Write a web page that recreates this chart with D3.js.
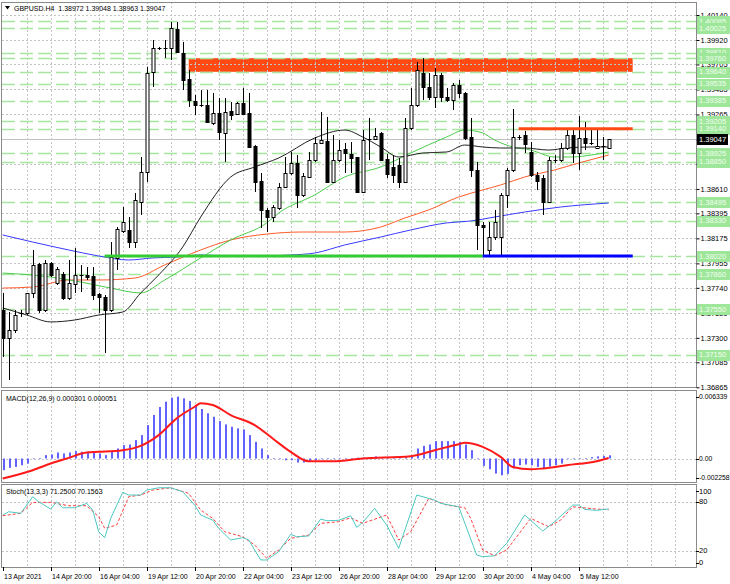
<!DOCTYPE html>
<html><head><meta charset="utf-8">
<script src="https://cdn.jsdelivr.net/npm/d3@7/dist/d3.min.js"></script>
<style>body{margin:0;background:#fff}svg{display:block;font-family:"Liberation Sans",Arial,sans-serif}</style>
</head><body><svg id="c" width="730" height="584"></svg>
<script>
// ---------------- DATA ----------------
const symbolTitle = "GBPUSD.H4  1.38972 1.39048 1.38963 1.39047";
const macdTitle = "MACD(12,26,9) 0.000301 0.000051";
const stochTitle = "Stoch(13,3,3) 71.2500 70.1563";

const openP = [1.37545,1.37299,1.37369,1.37519,1.37519,1.37695,1.37950,1.37545,1.37959,1.37783,
1.37862,1.37650,1.37774,1.37853,1.37853,1.37844,1.37686,1.37659,1.37545,1.38003,
1.38240,1.38249,1.38143,1.38495,1.38759,1.39639,1.39850,1.39850,1.39850,1.40017,
1.39806,1.39577,1.39384,1.39348,1.39348,1.39190,1.39278,1.39102,1.39295,1.39269,
1.39366,1.39278,1.38988,1.38680,1.38425,1.38363,1.38442,1.38627,1.38750,1.38838,
1.38557,1.38715,1.38864,1.39014,1.39032,1.38671,1.38864,1.38961,1.38917,1.38891,
1.38583,1.39049,1.39049,1.39102,1.38873,1.38803,1.38820,1.38671,1.39146,1.39348,
1.39630,1.39507,1.39419,1.39612,1.39419,1.39392,1.39524,1.39454,1.39067,1.38777,
1.38293,1.38073,1.38187,1.38187,1.38557,1.38777,1.39067,1.39084,1.38935,1.38733,
1.38706,1.38495,1.38864,1.38864,1.38970,1.39084,1.38926,1.39058,1.39014,1.38970,
1.38988,1.38972];
const highP = [1.37695,1.37527,1.37545,1.37545,1.37695,1.38073,1.37959,1.37985,1.37967,1.37923,
1.37879,1.37985,1.38090,1.37940,1.37923,1.37923,1.37695,1.37677,1.38143,1.38275,
1.38451,1.38363,1.38574,1.38891,1.39683,1.39920,1.39859,1.39920,1.40079,1.40079,
1.39903,1.39656,1.39436,1.39480,1.39480,1.39454,1.39410,1.39410,1.39375,1.39375,
1.39498,1.39454,1.38996,1.38750,1.38442,1.38468,1.38662,1.38891,1.38935,1.38908,
1.38750,1.38935,1.39067,1.39287,1.39243,1.39084,1.39040,1.39014,1.39023,1.38891,
1.39128,1.39234,1.39146,1.39111,1.38917,1.38908,1.38882,1.39234,1.39498,1.39727,
1.39762,1.39630,1.39674,1.39630,1.39498,1.39542,1.39568,1.39463,1.39234,1.38847,
1.38319,1.38319,1.38425,1.38574,1.38794,1.39313,1.39084,1.39120,1.39023,1.38759,
1.38733,1.38891,1.38908,1.39014,1.39128,1.39128,1.39251,1.39199,1.39128,1.39128,
1.39067,1.39048];
const lowP = [1.37132,1.36929,1.37343,1.37483,1.37501,1.37650,1.37519,1.37527,1.37835,1.37765,
1.37633,1.37633,1.37695,1.37703,1.37809,1.37633,1.37519,1.37167,1.37527,1.37897,
1.38222,1.38090,1.38090,1.38381,1.38671,1.39507,1.39832,1.39762,1.39744,1.39815,
1.39480,1.39331,1.39260,1.39331,1.39190,1.39172,1.39040,1.38847,1.39216,1.39260,
1.39260,1.38970,1.38583,1.38266,1.38231,1.38319,1.38425,1.38618,1.38733,1.38442,
1.38539,1.38706,1.38847,1.39014,1.38662,1.38662,1.38847,1.38750,1.38750,1.38574,
1.38574,1.38864,1.39040,1.38856,1.38706,1.38662,1.38618,1.38662,1.39128,1.39331,
1.39392,1.39392,1.39322,1.39375,1.39375,1.39304,1.39410,1.39040,1.38715,1.38073,
1.38029,1.38029,1.38161,1.38011,1.38442,1.38759,1.39040,1.38926,1.38715,1.38601,
1.38381,1.38486,1.38838,1.38847,1.38952,1.38838,1.38777,1.38952,1.38996,1.38961,
1.38864,1.38963];
const closeP = [1.37299,1.37369,1.37501,1.37510,1.37695,1.37940,1.37545,1.37959,1.37853,1.37906,
1.37650,1.37783,1.37853,1.37844,1.37835,1.37677,1.37659,1.37545,1.38011,1.38257,
1.38319,1.38143,1.38513,1.38759,1.39630,1.39850,1.39845,1.39841,1.40026,1.39815,
1.39568,1.39392,1.39348,1.39345,1.39199,1.39278,1.39111,1.39287,1.39260,1.39366,
1.39269,1.38979,1.38671,1.38425,1.38363,1.38451,1.38627,1.38750,1.38838,1.38557,
1.38724,1.38864,1.39014,1.39040,1.38671,1.38864,1.38952,1.38926,1.38882,1.38583,
1.39040,1.39045,1.39075,1.38864,1.38741,1.38733,1.38671,1.39146,1.39348,1.39656,
1.39507,1.39419,1.39612,1.39419,1.39392,1.39524,1.39454,1.39058,1.38777,1.38293,
1.38275,1.38187,1.38319,1.38557,1.38777,1.39067,1.39062,1.39005,1.38733,1.38680,
1.38495,1.38864,1.38860,1.38970,1.39084,1.38926,1.39058,1.39014,1.39010,1.38988,
1.38985,1.39047];

// moving averages (bar index, value)
const maBlackIdx = [0,4,8,12,16,20,23,26,30,33,38,42,46,52,57,60,63,66,70,74,77,80,83,87,91,94,98,101];
const maBlackVal = [1.37563,1.37501,1.37440,1.37457,1.37501,1.37527,1.37695,1.37853,1.38099,1.38363,1.38715,1.38803,1.38882,1.39058,1.39128,1.39067,1.38979,1.38891,1.38926,1.38935,1.38996,1.38979,1.38970,1.38970,1.38952,1.38970,1.38979,1.38979];
const maGreenIdx = [0,8,13,18,23,27,33,38,44,46,52,57,63,68,74,77,80,82,85,88,92,95,98,101];
const maGreenVal = [1.37870,1.37835,1.37791,1.37738,1.37695,1.37809,1.38003,1.38161,1.38311,1.38398,1.38557,1.38715,1.38803,1.38926,1.39067,1.39128,1.39102,1.39040,1.38979,1.38952,1.38891,1.38891,1.38908,1.38935];
const maOrangeIdx = [0,5,11,16,22,27,33,38,44,50,57,63,67,71,76,80,83,87,92,96,101];
const maOrangeVal = [1.37738,1.37747,1.37809,1.37809,1.37826,1.37941,1.38073,1.38161,1.38213,1.38231,1.38231,1.38275,1.38354,1.38425,1.38539,1.38601,1.38645,1.38715,1.38777,1.38838,1.38908];
const maBlueIdx = [0,5,11,16,21,25,29,33,38,43,48,52,57,63,68,74,78,82,87,93,101];
const maBlueVal = [1.38205,1.38143,1.38073,1.38020,1.37985,1.38003,1.38011,1.38029,1.38020,1.38020,1.38029,1.38046,1.38117,1.38187,1.38249,1.38311,1.38328,1.38363,1.38407,1.38451,1.38486];

// MACD histogram per bar and signal line
const macdHist = [-0.00111,-0.00089,-0.00080,-0.00064,-0.00048,0.00000,0.00003,0.00032,0.00038,0.00057,
0.00048,0.00057,0.00070,0.00064,0.00064,0.00057,0.00048,0.00032,0.00064,0.00095,
0.00127,0.00133,0.00175,0.00222,0.00317,0.00413,0.00489,0.00539,0.00577,0.00587,
0.00571,0.00546,0.00508,0.00470,0.00429,0.00396,0.00355,0.00324,0.00301,0.00286,
0.00276,0.00222,0.00158,0.00095,0.00032,0.00003,-0.00006,-0.00016,-0.00016,-0.00038,
-0.00038,-0.00025,-0.00016,-0.00006,0.00002,-0.00006,-0.00004,0.00003,0.00005,0.00008,
0.00010,0.00012,0.00020,0.00010,0.00008,0.00008,0.00008,0.00020,0.00025,0.00095,
0.00120,0.00133,0.00165,0.00165,0.00165,0.00165,0.00158,0.00133,0.00079,0.00000,
-0.00070,-0.00102,-0.00143,-0.00159,-0.00146,-0.00095,-0.00064,-0.00057,-0.00064,-0.00080,
-0.00089,-0.00076,-0.00064,-0.00048,-0.00006,-0.00006,-0.00004,0.00002,0.00013,0.00020,
0.00025,0.000301];
const macdSigIdx = [0,5,8,11,14,16,20,23,26,29,32,33,35,38,42,45,48,51,55,60,68,72,76,77,80,83,85,88,90,94,99,101];
const macdSigVal = [-0.0019,-0.00111,-0.00048,0.00006,0.00057,0.00063,0.00079,0.0012,0.00222,0.00381,0.00491,0.00524,0.00508,0.00412,0.00317,0.0019,0.00063,-0.00026,-0.00026,0.0,0.00022,0.00079,0.00136,0.00149,0.0011,0.00015,-0.0008,-0.00102,-0.00095,-0.00064,-0.00026,0.000051];

// Stochastic main and signal
const stMainIdx = [0,1,3,5,6,8,9,10,12,14,15,16,17,18,20,21,23,24,26,28,30,32,33,35,36,38,40,41,43,44,46,48,49,51,53,54,56,58,59,60,62,64,66,69,72,73,76,79,80,82,84,87,90,92,95,96,97,99,101];
const stMainVal = [63.7,67.7,65.8,86.1,80.0,71.0,80.0,72.6,72.6,78.0,69.8,43.2,35.9,59.6,91.5,88.2,88.2,94.3,97.1,97.1,92.2,75.9,63.7,57.5,47.4,33.1,35.9,33.1,8.6,8.6,18.7,40.0,37.1,38.0,58.8,56.7,57.2,62.8,48.6,54.5,71.9,51.4,22.9,88.2,82.0,78.0,73.8,14.7,12.6,13.8,29.0,63.7,44.1,55.5,75.9,75.9,70.6,69.4,71.25];
const stSigIdx = [0,3,5,8,11,14,16,17,19,21,23,25,28,31,33,35,37,40,42,44,46,48,51,53,56,58,60,64,66,68,71,74,77,78,80,82,84,88,91,93,95,99,101];
const stSigVal = [62.8,65.8,79.2,79.2,75.1,75.1,61.6,47.4,51.4,86.1,88.2,94.3,97.1,90.2,69.8,59.6,43.2,37.1,26.9,10.7,20.8,35.1,39.2,53.5,55.5,60.4,53.5,63.7,33.1,43.2,84.1,75.9,72.6,59.6,20.8,13.8,20.8,59.6,49.3,57.5,73.8,71.0,70.16];

// axis / levels
const priceTicks = [1.40140,1.39920,1.39705,1.39485,1.39265,1.39045,1.38830,1.38610,1.38395,1.38175,1.37955,1.37740,1.37520,1.37300,1.37085,1.36865];
const levelPrices = [1.40085,1.40025,1.39810,1.39760,1.39640,1.39535,1.39385,1.39205,1.39140,1.38925,1.38850,1.38495,1.38330,1.38020,1.37860,1.37550,1.37150];
const bidPrice = 1.39047;
const timeLabels = ["13 Apr 2021","14 Apr 20:00","16 Apr 04:00","19 Apr 12:00","20 Apr 20:00","22 Apr 04:00","23 Apr 12:00","26 Apr 20:00","28 Apr 04:00","29 Apr 12:00","30 Apr 20:00","4 May 04:00","5 May 12:00"];
const timeLabelIdx = [0,8,16,24,32,40,48,56,64,72,80,88,96];
const macdTicks = [0.006339,0,-0.002258];
const stochTicks = [100,80,20,0];
// drawn objects
const zoneBox = {from:31, to:105, top:1.39760, bottom:1.39640};
const resLine = {from:86, to:105, price:1.39140};
const supGreen = {from:17, to:80, price:1.38020};
const supBlue = {from:80, to:105, price:1.38020};

// ---------------- DRAW ----------------
const svg = d3.select('#c');
const L = 2, R = 696;
const panels = {main:[2,388], macd:[390,482.5], stoch:[484,567.5]};
const x = d3.scaleLinear().domain([0,101]).range([2.7,608.7]);
const y = d3.scaleLinear().domain([1.36865,1.40140]).range([387.3,15]);
const ym = d3.scaleLinear().domain([-0.002258,0.006339]).range([482.3,391.7]);
const ys = d3.scaleLinear().domain([0,100]).range([567,485.4]);
const cr = v => Math.round(v)+0.5;
const FS = 7.5, FT = 7;

const defs = svg.append('defs');
Object.entries(panels).forEach(([k,[t,b]])=>{
  defs.append('clipPath').attr('id','clip-'+k).append('rect').attr('x',L).attr('y',t).attr('width',R-L).attr('height',b-t);
});
svg.append('rect').attr('width',730).attr('height',584).attr('fill','#fff');

const gMain = svg.append('g').attr('clip-path','url(#clip-main)');
const gMacd = svg.append('g').attr('clip-path','url(#clip-macd)');
const gSt = svg.append('g').attr('clip-path','url(#clip-stoch)');

// zone rectangle (background object)
gMain.append('rect')
  .attr('x',x(zoneBox.from)).attr('width',x(zoneBox.to)-x(zoneBox.from))
  .attr('y',y(zoneBox.top)).attr('height',y(zoneBox.bottom)-y(zoneBox.top))
  .attr('fill','#ff4a14');

// vertical grid
const gridIdx = d3.range(4,120,4).filter(i=>x(i)<R-2);
[[gMain,'main'],[gMacd,'macd'],[gSt,'stoch']].forEach(([g,k])=>{
  const [t,b]=panels[k];
  g.selectAll(null).data(gridIdx).join('line')
    .attr('x1',d=>cr(x(d))).attr('x2',d=>cr(x(d))).attr('y1',t).attr('y2',b)
    .attr('stroke','#c4c4c4').attr('stroke-dasharray','2,2').attr('stroke-width',1);
});
// horizontal grid main
gMain.selectAll(null).data(priceTicks).join('line')
  .attr('x1',L).attr('x2',R).attr('y1',d=>cr(y(d))).attr('y2',d=>cr(y(d)))
  .attr('stroke','#c4c4c4').attr('stroke-dasharray','2,2');
// macd zero, stoch levels
gMacd.append('line').attr('x1',L).attr('x2',R).attr('y1',cr(ym(0))).attr('y2',cr(ym(0)))
  .attr('stroke','#c4c4c4').attr('stroke-dasharray','2,2');
gSt.selectAll(null).data([80,20]).join('line')
  .attr('x1',L).attr('x2',R).attr('y1',d=>cr(ys(d))).attr('y2',d=>cr(ys(d)))
  .attr('stroke','#c4c4c4').attr('stroke-dasharray','2,2');

// green dashed levels
gMain.selectAll(null).data(levelPrices).join('line')
  .attr('x1',L).attr('x2',R).attr('y1',d=>cr(y(d))).attr('y2',d=>cr(y(d)))
  .attr('stroke','#a8e6a0').attr('stroke-width',1.3).attr('stroke-dasharray','13,5');

// bid line
gMain.append('line').attr('x1',L).attr('x2',R).attr('y1',cr(y(bidPrice))).attr('y2',cr(y(bidPrice)))
  .attr('stroke','#c0c0c0');

// moving averages
function maLine(idx,val,color){
  const pts = idx.map((d,i)=>[x(d),y(val[i])]);
  gMain.append('path').attr('d',d3.line().curve(d3.curveMonotoneX)(pts))
    .attr('fill','none').attr('stroke',color).attr('stroke-width',1);
}
maLine(maBlueIdx,maBlueVal,'#3a3aff');
maLine(maOrangeIdx,maOrangeVal,'#ff5a28');
maLine(maGreenIdx,maGreenVal,'#4ccc4c');
maLine(maBlackIdx,maBlackVal,'#202020');

// candles
const bars = d3.range(openP.length).map(i=>({i,o:openP[i],h:highP[i],l:lowP[i],c:closeP[i]}));
const gC = gMain.append('g');
bars.forEach(b=>{
  const cx = Math.round(x(b.i));
  gC.append('line').attr('x1',cx+0.5).attr('x2',cx+0.5).attr('y1',y(b.h)).attr('y2',y(b.l))
    .attr('stroke','#000').attr('stroke-width',1);
  const top = y(Math.max(b.o,b.c)), bot = y(Math.min(b.o,b.c));
  if (bot-top < 1.2) {
    gC.append('line').attr('x1',cx-1.5).attr('x2',cx+2.5).attr('y1',cr(top)).attr('y2',cr(top))
      .attr('stroke','#000');
  } else {
    gC.append('rect').attr('x',cx-1).attr('y',cr(top)).attr('width',3).attr('height',Math.round(bot-top))
      .attr('fill',b.c>=b.o?'#fff':'#000').attr('stroke','#000').attr('stroke-width',1);
  }
});

// thick drawn lines
function hline(o,color,w){
  gMain.append('line').attr('x1',x(o.from)).attr('x2',x(o.to)).attr('y1',y(o.price)).attr('y2',y(o.price))
    .attr('stroke',color).attr('stroke-width',w);
}
hline(supGreen,'#33cc33',3);
hline(supBlue,'#0000ff',3);
hline(resLine,'#ff4a14',3);

// MACD histogram
gMacd.selectAll(null).data(macdHist).join('rect')
  .attr('x',(d,i)=>Math.round(x(i))).attr('width',2)
  .attr('y',d=>Math.min(ym(d),ym(0))).attr('height',d=>Math.max(0.6,Math.abs(ym(d)-ym(0))))
  .attr('fill','#6262ff');
gMacd.append('path').attr('d',d3.line().curve(d3.curveMonotoneX)(macdSigIdx.map((d,i)=>[x(d),ym(macdSigVal[i])])))
  .attr('fill','none').attr('stroke','#ff1a1a').attr('stroke-width',2);

// Stochastic
gSt.append('path').attr('d',d3.line()(stSigIdx.map((d,i)=>[x(d),ys(stSigVal[i])])))
  .attr('fill','none').attr('stroke','#ff3c3c').attr('stroke-width',1).attr('stroke-dasharray','3,2');
gSt.append('path').attr('d',d3.line()(stMainIdx.map((d,i)=>[x(d),ys(stMainVal[i])])))
  .attr('fill','none').attr('stroke','#4cc8c0').attr('stroke-width',1);

// panel frames
Object.values(panels).forEach(([t,b])=>{
  svg.append('rect').attr('x',L-0.5).attr('y',Math.round(t)+0.5).attr('width',R-L+1).attr('height',Math.round(b-t)-1)
    .attr('fill','none').attr('stroke','#8a8a8a');
});

// price axis
const ax = svg.append('g').attr('transform',`translate(${R+0.5},0)`)
  .call(d3.axisRight(y).tickValues(priceTicks).tickSize(3).tickPadding(1).tickFormat(d3.format('.5f')));
ax.select('.domain').remove();
ax.selectAll('line').attr('stroke','#000');
ax.selectAll('text').attr('font-size',FS).attr('fill','#000').attr('font-family','"Liberation Sans",Arial,sans-serif');

// level labels
const lvl = svg.append('g');
levelPrices.forEach(p=>{
  const yy = y(p);
  lvl.append('rect').attr('x',R+1).attr('y',Math.round(yy)-5).attr('width',33).attr('height',11).attr('fill','#9ee69a');
  lvl.append('text').attr('x',R+3).attr('y',yy).attr('dy','0.34em').attr('font-size',FS).attr('fill','#f2fff0').text(p.toFixed(5));
});
lvl.append('rect').attr('x',R+1).attr('y',Math.round(y(bidPrice))-5).attr('width',31).attr('height',11).attr('fill','#000');
lvl.append('text').attr('x',R+3).attr('y',y(bidPrice)).attr('dy','0.34em').attr('font-size',FS).attr('fill','#fff').text(bidPrice.toFixed(5));

// macd & stoch axis labels
function sideLabels(vals,scale,[t,b],fmt,fs){
  vals.forEach(v=>{
    const yy = Math.max(t+7,Math.min(b-5,scale(v)));
    svg.append('line').attr('x1',R).attr('x2',R+3).attr('y1',cr(yy)).attr('y2',cr(yy)).attr('stroke','#000');
    svg.append('text').attr('x',R+3).attr('y',yy).attr('dy','0.34em').attr('font-size',fs).attr('fill','#000').text(fmt(v));
  });
}
sideLabels(macdTicks,ym,panels.macd,v=>v===0?'0.00':v.toFixed(6),6.8);
sideLabels(stochTicks,ys,panels.stoch,v=>String(v),FS);

// time axis
const tg = svg.append('g');
timeLabelIdx.forEach((d,k)=>{
  const xx = cr(x(d));
  tg.append('line').attr('x1',xx).attr('x2',xx).attr('y1',567).attr('y2',571).attr('stroke','#000');
  tg.append('text').attr('x',xx+0.5).attr('y',579).attr('font-size',FT).attr('fill','#000').text(timeLabels[k]);
});

// titles
svg.append('path').attr('d','M5,6 L10,6 L7.5,9.5 Z').attr('fill','#000');
svg.append('text').attr('x',14).attr('y',11).attr('font-size',FT).attr('fill','#000').style('white-space','pre').text(symbolTitle);
svg.append('text').attr('x',6).attr('y',401).attr('font-size',FT).attr('fill','#000').text(macdTitle);
svg.append('text').attr('x',6).attr('y',494).attr('font-size',FT).attr('fill','#000').text(stochTitle);
</script></body></html>
